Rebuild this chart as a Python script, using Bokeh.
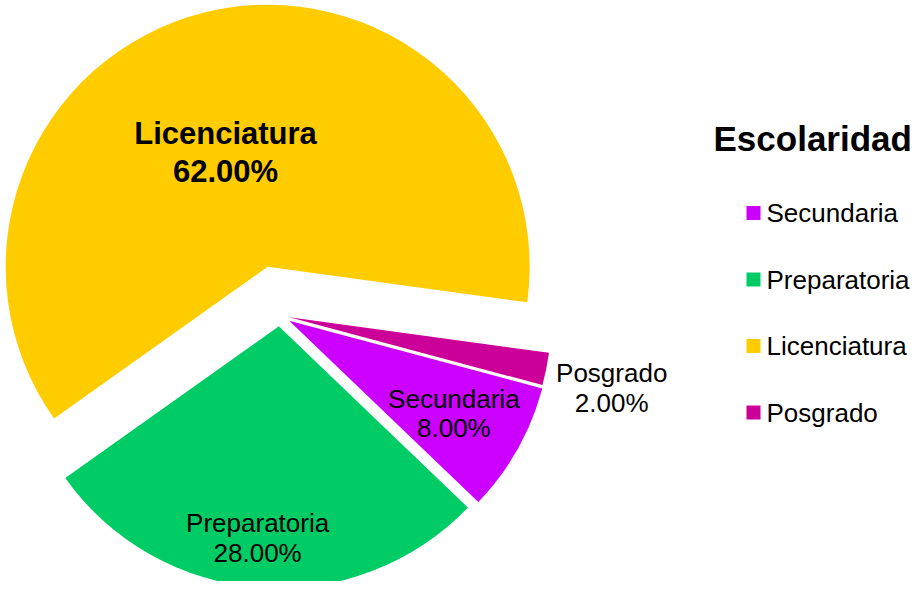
import numpy as np
from bokeh.plotting import figure
from bokeh.models import Range1d
from bokeh.core.properties import value
from bokeh.embed import file_html
from bokeh.resources import INLINE

# ---- data ----
categories = ["Secundaria", "Preparatoria", "Licenciatura", "Posgrado"]
percentages = [8.0, 28.0, 62.0, 2.0]
pct_labels = ["8.00%", "28.00%", "62.00%", "2.00%"]
colors = ["#CC00FF", "#00CC66", "#FFCC00", "#CC0099"]
legend_title = "Escolaridad"

# ---- layout (screen-like units, y negated) ----
CX, CY = 279.1, -314.8
R = 262
first_slice_angle = 105.0          # degrees clockwise from 12 o'clock
explode = [11, 11, 50, 10]
label_dist = [189, 213, 122, 330]
label_shift = [0.0, -1.5, 6.4, -1.0]
label_size = [26, 26, 31, 26]
label_bold = [False, False, True, False]
label_gap = [29, 30, 38, 30]
FONT = "Liberation Sans"

p = figure(width=915, height=581, x_range=Range1d(0, 915), y_range=Range1d(-581, 0),
           output_backend="svg", toolbar_location=None, min_border=0,
           x_axis_location=None, y_axis_location=None)
p.grid.visible = False
p.outline_line_color = None
p.background_fill_color = "white"
p.border_fill_color = "white"

total = sum(percentages)
a = 90.0 - first_slice_angle
for i, (cat, v) in enumerate(zip(categories, percentages)):
    start = a
    end = a - v / total * 360.0
    a = end
    mid = (start + end) / 2.0
    ax = CX + explode[i] * np.cos(np.radians(mid))
    ay = CY + explode[i] * np.sin(np.radians(mid))
    p.wedge(x=[ax], y=[ay], radius=R, start_angle=[np.radians(end)], end_angle=[np.radians(start)],
            fill_color=colors[i], line_color=None)
    la = np.radians(mid + label_shift[i])
    lx = ax + label_dist[i] * np.cos(la)
    ly = ay + label_dist[i] * np.sin(la)
    fs = label_size[i]
    style = "bold" if label_bold[i] else "normal"
    ys = [ly + label_gap[i] / 2, ly - label_gap[i] / 2]
    p.text(x=[lx, lx], y=ys, text=[cat, pct_labels[i]], text_align="center",
           text_baseline="middle", text_font=value(FONT),
           text_font_size=value(f"{fs}px"), text_font_style=style, text_color="black")

# legend
p.text(x=[713], y=[-137.5], text=[legend_title], text_align="left", text_baseline="middle",
       text_font=value(FONT), text_font_size=value("35px"), text_font_style="bold",
       text_color="black")
for i, cat in enumerate(categories):
    yc = -(212.5 + 66.5 * i)
    p.rect(x=[753], y=[yc], width=14, height=14, fill_color=colors[i], line_color=None)
    p.text(x=[766], y=[yc], text=[cat], text_align="left", text_baseline="middle",
           text_font=value(FONT), text_font_size=value("26px"), text_color="black")

open("out.html", "w").write(file_html(p, INLINE))
